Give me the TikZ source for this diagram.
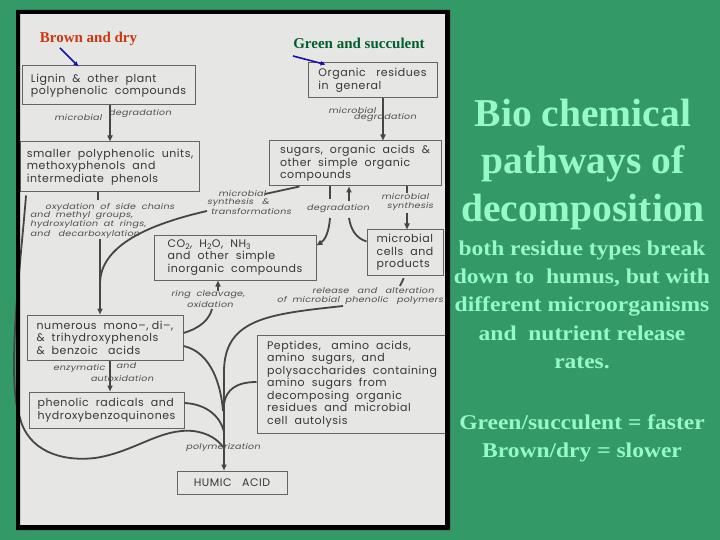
\documentclass[tikz,border=0pt]{standalone}
\usepackage{fontspec}
\setmainfont{Liberation Serif}
\newfontfamily\boxfont[LetterSpace=5]{Poppins}
\newfontfamily\labfont[FakeSlant=0.2,FakeStretch=1.2,LetterSpace=3]{Poppins}
\newfontfamily\bodyfont[FakeStretch=1.12]{Liberation Serif}
\usetikzlibrary{arrows.meta}
\definecolor{bggreen}{RGB}{51,153,102}
\definecolor{mint}{RGB}{150,250,200}
\definecolor{panel}{RGB}{230,230,228}
\definecolor{ink}{RGB}{55,55,55}
\definecolor{labink}{RGB}{80,80,80}
\definecolor{lineink}{RGB}{70,70,70}
\definecolor{boxline}{RGB}{100,100,100}
\definecolor{brownlab}{RGB}{205,55,15}
\definecolor{greenlab}{RGB}{0,95,45}
\definecolor{pointer}{RGB}{20,20,170}
\tikzset{
  box/.style={draw=boxline, line width=1pt, inner xsep=6pt, inner ysep=0pt, align=left,
    font=\boxfont\fontsize{11}{12.5}\selectfont, text=ink},
  lab/.style={font=\labfont\fontsize{8}{9}\selectfont, text=labink, inner sep=0pt},
  conn/.style={draw=lineink, line width=1.8pt},
  arr/.style={conn, -{Triangle[length=6pt,width=5pt]}},
  title/.style={font=\fontsize{39.5}{47}\selectfont\bfseries, text=mint, inner sep=0pt},
  body/.style={font=\bodyfont\bfseries\fontsize{21}{28.5}\selectfont, text=mint, inner sep=0pt},
  tag/.style={font=\fontsize{15}{18}\selectfont\bfseries, inner sep=0pt},
  ptr/.style={draw=pointer, line width=1.6pt, -{Triangle[length=5pt,width=4pt]}}
}
\begin{document}
\begin{tikzpicture}[x=1pt,y=-1pt]
\useasboundingbox (0,0) rectangle (720,540);
\fill[bggreen] (0,0) rectangle (720,540);
\fill[panel] (16,10) rectangle (450,530);

% boxes
\node[box, minimum width=173pt, minimum height=39pt] (lignin) at (108.5,85.5)
  {Lignin \ \& \ other \ plant\\polyphenolic \ compounds};
\node[box, minimum width=129pt, minimum height=35pt] (organic) at (372.5,80.5)
  {Organic \ \ residues\\in \ general};
\node[box, minimum width=174pt, minimum height=50pt] (smaller) at (110,167)
  {smaller \ polyphenolic \ units,\\methoxyphenols \ and\\intermediate \ phenols};
\node[box, minimum width=172pt, minimum height=45pt] (sugars) at (355,163.5)
  {sugars, \ organic \ acids \ \&\\other \ simple \ organic\\compounds};
\node[box, minimum width=162pt, minimum height=45pt] (co2) at (235,257.5)
  {CO\textsubscript{2}, \ H\textsubscript{2}O, \ NH\textsubscript{3}\\and \ other \ simple\\inorganic \ compounds};
\node[box, minimum width=76pt, minimum height=45pt] (cells) at (405,252.5)
  {microbial\\cells \ and\\products};
\node[box, minimum width=156pt, minimum height=45pt] (numerous) at (105,337.5)
  {numerous \ mono–, di–,\\\& \ trihydroxyphenols\\\& \ benzoic \ \ acids};
\node[box, minimum width=155pt, minimum height=36pt] (phenolic) at (106.5,410)
  {phenolic \ radicals \ and\\hydroxybenzoquinones};
\node[box, minimum width=190pt, minimum height=98pt] (peptides) at (352,384)
  {Peptides, \ \ amino \ acids,\\amino \ sugars, \ and\\polysaccharides \ containing\\amino \ sugars \ from\\decomposing \ organic\\residues \ and \ microbial\\cell \ autolysis};
\node[box, align=center, minimum width=110pt, minimum height=23pt] (humic) at (232,482.5)
  {HUMIC \ \ ACID};

% labels
\node[lab] (l1a) at (78,117) {microbial};
\node[lab] (l1b) at (140,114) {degradation};
\node[lab] (l2a) at (352,110) {microbial};
\node[lab] (l2b) at (385,118) {degradation};
\node[lab, anchor=west] (ox1) at (45,207) {oxydation \ of \ side \ chains};
\node[lab, anchor=west] (ox2) at (30,216) {and \ methyl \ groups,};
\node[lab, anchor=west] (ox3) at (30,225) {hydroxylation \ at \ rings,};
\node[lab, anchor=west] (ox4) at (30,234) {and \ \ decarboxylation};
\node[lab] (ms1) at (242,193) {microbial};
\node[lab] (ms2) at (238,202) {synthesis \ \ \&};
\node[lab] (ms3) at (251,211) {transformations};
\node[lab] (dg) at (338,209) {degradation};
\node[lab] (sy1) at (405,196) {microbial};
\node[lab] (sy2) at (410,206) {synthesis};
\node[lab] (rc1) at (208,295) {ring \ cleavage,};
\node[lab] (rc2) at (210,304) {oxidation};
\node[lab] (ra1) at (373,290) {release \ \ and \ \ alteration};
\node[lab] (ra2) at (360,300) {of \ microbial \ phenolic \ \ polymers};
\node[lab] (ez1) at (79,368) {enzymatic};
\node[lab] (ez2) at (126,366) {and};
\node[lab] (ez3) at (122,378) {autoxidation};

% free ends
\coordinate (oxend) at (100,239);
\coordinate (trstart) at (207,211);
\coordinate (trmerge) at (100,284);
\coordinate (msend) at (265,194);
\coordinate (dgl) at (330,218);
\coordinate (dgr) at (349,218);
\coordinate (dgup) at (349,201);
\coordinate (syend) at (407,213);
\coordinate (rcend) at (218,291);
\coordinate (rcstart) at (212,309);
\coordinate (tick) at (400,286);
\coordinate (rel) at (343,306);
\coordinate (tr1) at (223,411);
\coordinate (tr2) at (224,432);
\coordinate (tr3) at (224,404);
\coordinate (tr4) at (223,447);

% connectors
\draw[arr] ([xshift=1.5pt]lignin.south) -- (smaller.north);
\draw[arr] ([xshift=10.5pt]organic.south) -- ([xshift=28pt]sugars.north);
\draw[conn] ([xshift=-12pt]smaller.south) -- ++(0,8);
\draw[arr] (oxend) -- ([xshift=-5pt]numerous.north);
\draw[conn] (trstart) .. controls (150,224) and (100,245) .. (trmerge);
\draw[conn] ([xshift=31pt]sugars.south west) -- (msend);
\draw[conn] ([xshift=-25pt]sugars.south) -- ++(0,13);
\draw[arr] (dgup) -- ([xshift=-6pt]sugars.south);
\draw[conn] ([xshift=52pt]sugars.south) -- ++(0,7);
\draw[arr] (syend) -- ([xshift=2pt]cells.north);
\draw[arr] (dgl) .. controls (329,232) and (325,240) .. ([yshift=12pt]co2.east);
\draw[conn] (dgr) .. controls (351,230) and (356,238) .. ([yshift=11pt]cells.west);
\draw[arr] (rcend) -- ([xshift=-17pt]co2.south);
\draw[conn] ([yshift=4.5pt]numerous.east) .. controls (200,328) and (209,320) .. (rcstart);
\draw[conn, shorten <=3pt] (cells.south) -- (tick);
\draw[arr] ([xshift=5pt]numerous.south) -- ([xshift=3.5pt]phenolic.north);
\draw[arr] (rel) .. controls (270,314) and (224,318) .. (224,372) -- ([xshift=-8pt]humic.north);
\draw[conn] ([yshift=-8.5pt]numerous.east) .. controls (206,351) and (220,375) .. (tr1);
\draw[conn] ([yshift=7pt]phenolic.east) .. controls (205,404) and (220,415) .. (tr2);
\draw[conn] ([yshift=2pt]peptides.west) .. controls (236,382) and (226,390) .. (tr3);
\draw[conn, shorten <=3pt] ([xshift=6pt]smaller.south west) .. controls (20,270) and (6,380) .. (20,418)
  .. controls (28,450) and (60,462) .. (95,458)
  .. controls (135,452) and (160,428) .. (193,431)
  .. controls (209,433) and (218,440) .. (tr4);

\node[lab] (poly) at (223,447) {polymerization};

% frame
\fill[black, even odd rule] (16,10) rectangle (450,530) (20,14) rectangle (445,525);

% top tags
\node[tag, text=brownlab, anchor=base] (brown) at (88.5,43) {Brown and dry};
\node[tag, text=greenlab, anchor=base] (green) at (359,49) {Green and succulent};
\coordinate (bp) at (60,48);
\coordinate (gp) at (293,56);
\draw[ptr] (bp) -- ([xshift=-30pt,yshift=-1pt]lignin.north);
\draw[ptr] (gp) -- ([xshift=-47pt,yshift=-2pt]organic.north);

% right side text
\node[title, anchor=base] (t1) at (583,127) {Bio chemical};
\node[title, anchor=base] (t2) at (583,174) {pathways of};
\node[title, anchor=base] (t3) at (583,222) {decomposition};
\node[body, anchor=base] (b1) at (582,255) {both residue types break};
\node[body, anchor=base] (b2) at (582,283) {down to \ humus, but with};
\node[body, anchor=base] (b3) at (582,311) {different microorganisms};
\node[body, anchor=base] (b4) at (582,340) {and \ nutrient release};
\node[body, anchor=base] (b5) at (582,368) {rates.};
\node[body, anchor=base] (b6) at (582,429) {Green/succulent = faster};
\node[body, anchor=base] (b7) at (582,457) {Brown/dry = slower};
\end{tikzpicture}
\end{document}
